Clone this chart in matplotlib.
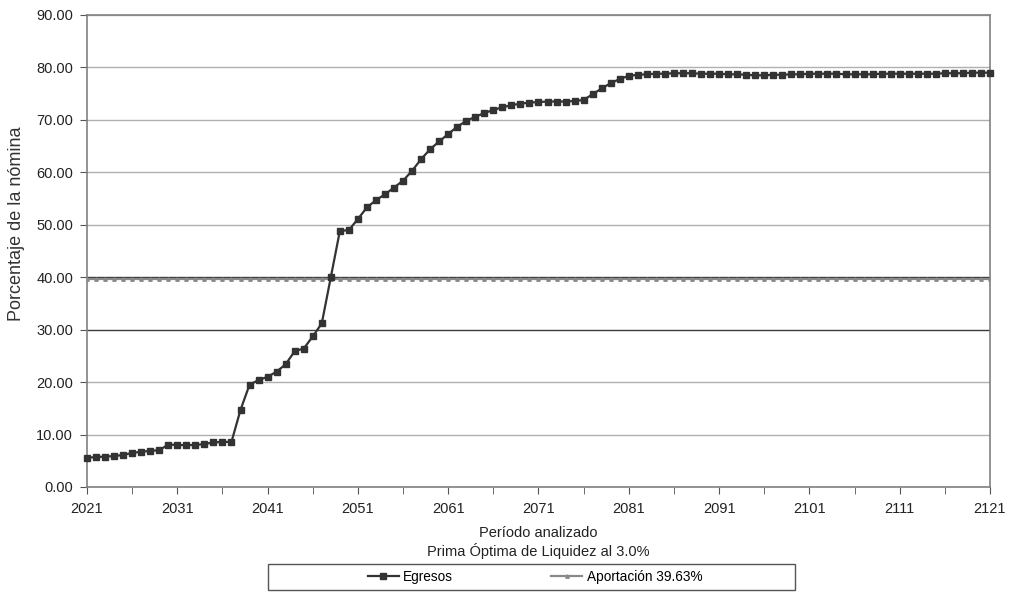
import matplotlib
matplotlib.use('Agg')
import matplotlib.pyplot as plt
from matplotlib.patches import Rectangle
from matplotlib.ticker import MultipleLocator, FormatStrFormatter

plt.rcParams['font.family'] = ['Liberation Sans', 'DejaVu Sans']

years = list(range(2021, 2122))
egresos = [
    5.6, 5.7, 5.8, 5.9, 6.1, 6.5, 6.7, 6.9, 7.0, 8.1,
    8.0, 8.0, 8.0, 8.2, 8.5, 8.6, 8.6, 14.7, 19.5, 20.4,
    21.0, 22.0, 23.4, 25.9, 26.4, 28.7, 31.2, 40.0, 48.8, 49.0,
    51.1, 53.3, 54.7, 55.8, 57.1, 58.4, 60.3, 62.5, 64.4, 65.9,
    67.3, 68.7, 69.8, 70.6, 71.3, 71.9, 72.4, 72.8, 73.1, 73.3,
    73.4, 73.5, 73.5, 73.5, 73.6, 73.8, 74.9, 76.0, 77.0, 77.8,
    78.4, 78.6, 78.7, 78.8, 78.8, 78.9, 78.9, 78.9, 78.8, 78.8,
    78.8, 78.7, 78.7, 78.6, 78.5, 78.5, 78.6, 78.6, 78.7, 78.7,
    78.8, 78.8, 78.8, 78.8, 78.7, 78.7, 78.7, 78.7, 78.8, 78.8,
    78.8, 78.8, 78.8, 78.8, 78.8, 78.9, 78.9, 78.9, 79.0, 79.0,
    79.0,
]
aportacion = [39.63] * len(years)

fig = plt.figure(figsize=(10.1, 5.92), dpi=100)
ax = fig.add_axes([87 / 1010, 105 / 592, 903 / 1010, 472 / 592])

ax.plot(years, egresos, color='#333333', lw=1.6, marker='s', ms=3.8,
        label='Egresos', zorder=4, clip_on=False)
ax.plot(years, aportacion, color='#8a8a8a', lw=1.6, marker='^', ms=2.5,
        label='Aportación 39.63%', zorder=3)

ax.set_xlim(2021, 2121)
ax.set_ylim(0, 90)
ax.xaxis.set_major_locator(MultipleLocator(10, offset=1))
ax.xaxis.set_minor_locator(MultipleLocator(5, offset=1))
ax.yaxis.set_major_locator(MultipleLocator(10))
ax.yaxis.set_major_formatter(FormatStrFormatter('%.2f'))
ax.tick_params(axis='both', which='both', direction='out', colors='#555555',
               labelcolor='#222222', labelsize=10.5)
ax.tick_params(axis='x', which='both', length=5, pad=6)
ax.tick_params(axis='y', length=5, pad=5)

ax.grid(axis='y', color='#b0b0b0', lw=1.0, zorder=1)
for val, gl in zip(ax.get_yticks(), ax.get_ygridlines()):
    if round(val) in (30, 40):
        gl.set_color('#3a3a3a')
for s in ax.spines.values():
    s.set_color('#808080')
    s.set_linewidth(1.2)

ax.set_ylabel('Porcentaje de la nómina', fontsize=13, color='#333333')
ax.yaxis.set_label_coords(-0.0685, 0.557)
ax.set_xlabel('Período analizado\nPrima Óptima de Liquidez al 3.0%', fontsize=10.5,
              color='#222222', labelpad=7, linespacing=1.25)

# legend box below the chart
fig.patches.append(Rectangle((268 / 1010, 2 / 592), 527 / 1010, 26 / 592,
                             transform=fig.transFigure, fill=False,
                             edgecolor='#555555', lw=1.0))
leg = fig.legend(loc='center', ncol=2, bbox_to_anchor=(535 / 1010, 15 / 592),
                 fontsize=9.8, frameon=False, handlelength=2.3, handletextpad=0.3,
                 columnspacing=7.2, borderpad=0.0)

fig.savefig('out.png', dpi=100)
